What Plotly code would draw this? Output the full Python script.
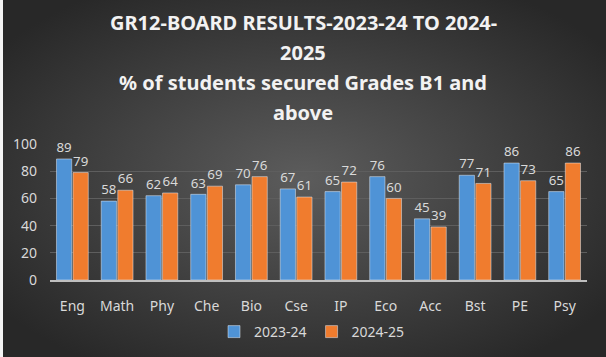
import plotly.graph_objects as go
import base64

categories = ["Eng", "Math", "Phy", "Che", "Bio", "Cse", "IP", "Eco", "Acc", "Bst", "PE", "Psy"]
s2324 = [89, 58, 62, 63, 70, 67, 65, 76, 45, 77, 86, 65]
s2425 = [79, 66, 64, 69, 76, 61, 72, 60, 39, 71, 73, 86]
series_names = ["2023-24", "2024-25"]
title_lines = ["GR12-BOARD RESULTS-2023-24 TO 2024-", "2025",
               "% of students secured Grades B1 and", "above"]
ytick_vals = [0, 20, 40, 60, 80, 100]

W, H = 606, 357
L, R, T, B = 50, 19, 144, 77
pw, ph = W - L - R, H - T - B

svg = f'''<svg xmlns="http://www.w3.org/2000/svg" width="{W}" height="{H}">
<defs><radialGradient id="g" cx="50%" cy="50%" r="62%">
<stop offset="0%" stop-color="#5c5c5c"/><stop offset="100%" stop-color="#282828"/>
</radialGradient></defs>
<rect width="{W}" height="{H}" fill="url(#g)"/>
<rect x="0" y="0" width="3" height="{H}" fill="#f4f4f4"/></svg>'''
src = "data:image/svg+xml;base64," + base64.b64encode(svg.encode()).decode()

lbl_font = dict(family="Noto Sans", size=14, color="#D9D9D9")

fig = go.Figure()
fig.add_trace(go.Bar(x=categories, y=s2324, name=series_names[0], marker_color="#4F93D6",
                     text=s2324, textposition="outside", textfont=lbl_font, cliponaxis=False))
fig.add_trace(go.Bar(x=categories, y=s2425, name=series_names[1], marker_color="#F07C2E",
                     text=s2425, textposition="outside", textfont=lbl_font, cliponaxis=False))

ann = []
ys = [22, 53, 82, 112]
for t, yy in zip(title_lines, ys):
    ann.append(dict(text="<b>" + t + "</b>", xref="paper", yref="paper",
                    x=(W / 2 - L) / pw, y=(H - B - yy) / ph, xanchor="center", yanchor="middle",
                    showarrow=False, font=dict(family="Noto Sans", size=20, color="#F2F2F2")))

fig.update_layout(
    width=W, height=H, margin=dict(l=L, r=R, t=T, b=B, autoexpand=False),
    paper_bgcolor="#404040", plot_bgcolor="rgba(0,0,0,0)",
    barmode="group", bargap=0.26, bargroupgap=0.08,
    showlegend=True,
    legend=dict(orientation="h", xref="container", x=(312) / W, xanchor="center",
                yref="container", y=(H - 332) / H, yanchor="middle", itemwidth=30,
                font=dict(family="Noto Sans", size=14, color="#D9D9D9"), bgcolor="rgba(0,0,0,0)"),
    annotations=ann,
    images=[dict(source=src, xref="paper", yref="paper", x=-L / pw, y=(H - B) / ph,
                 sizex=W / pw, sizey=H / ph, sizing="stretch", xanchor="left", yanchor="top",
                 layer="below")],
    font=dict(family="Noto Sans", color="#D9D9D9"),
)
fig.update_yaxes(range=[0, 100], tickvals=ytick_vals, showgrid=True, gridcolor="#5E5E5E", gridwidth=1,
                 zeroline=False, showline=False, ticks="", ticklabelstandoff=12, automargin=False,
                 tickfont=dict(family="Noto Sans", size=14, color="#D9D9D9"))
fig.update_xaxes(showline=True, linecolor="#BFBFBF", linewidth=2, ticks="", ticklabelstandoff=12,
                 automargin=False,
                 tickfont=dict(family="Noto Sans", size=14, color="#D9D9D9"))

fig.write_html("out.html", config={"displayModeBar": False},
               post_script="document.body.style.margin='0';")
